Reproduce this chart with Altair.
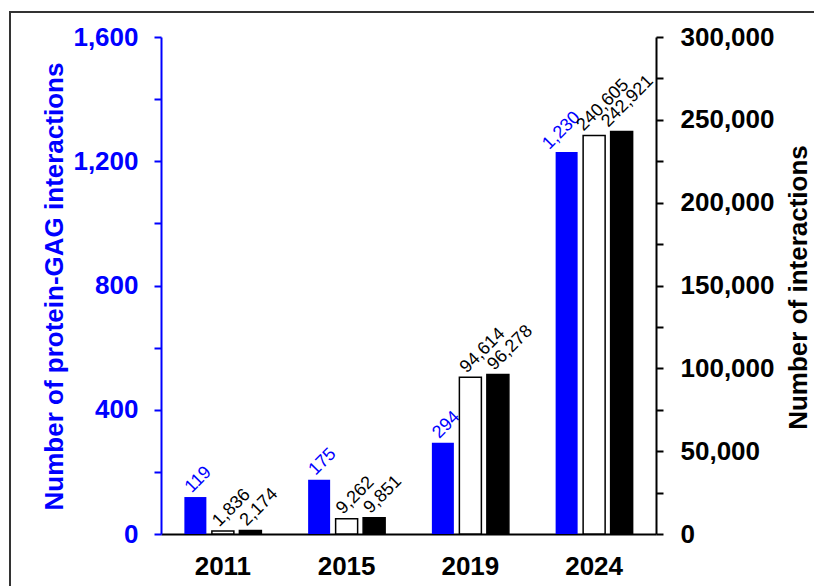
import altair as alt
import pandas as pd

# ---- data -------------------------------------------------------------
years = ["2011", "2015", "2019", "2024"]
protein_gag = [119, 175, 294, 1230]            # left axis (blue)
interactions_open = [1836, 9262, 94614, 240605]    # right axis (white bars)
interactions_filled = [2174, 9851, 96278, 242921]  # right axis (black bars)

series_order = ["protein-GAG", "open", "filled"]
series_fill = ["#0000ff", "#ffffff", "#000000"]

left_ticks = [0, 200, 400, 600, 800, 1000, 1200, 1400, 1600]
right_ticks = [0, 25000, 50000, 75000, 100000, 125000, 150000, 175000,
               200000, 225000, 250000, 275000, 300000]

rows = []
for i, yr in enumerate(years):
    rows.append({"year": yr, "series": "protein-GAG", "value": protein_gag[i]})
    rows.append({"year": yr, "series": "open", "value": interactions_open[i]})
    rows.append({"year": yr, "series": "filled", "value": interactions_filled[i]})
df = pd.DataFrame(rows)

FONT = "Liberation Sans"
BLUE = "#0000ff"

x_enc = alt.X(
    "year:N", sort=years,
    scale=alt.Scale(paddingInner=0, paddingOuter=0),
    axis=alt.Axis(title=None, labelAngle=0, ticks=False, tickSize=0,
                  domainColor="black", domainWidth=2, grid=False,
                  labelFont=FONT, labelFontSize=26, labelFontWeight="bold",
                  labelColor="black", labelPadding=19),
)
xo_enc = alt.XOffset("series:N",
                     scale=alt.Scale(domain=series_order, paddingInner=0.2, paddingOuter=0.85))
color_enc = alt.Color("series:N", scale=alt.Scale(domain=series_order, range=series_fill),
                      legend=None)

y_left = alt.Y(
    "value:Q",
    scale=alt.Scale(domain=[0, 1600], nice=False),
    axis=alt.Axis(
        title="Number of protein-GAG interactions", orient="left",
        values=left_ticks,
        labelExpr="datum.value % 400 == 0 ? format(datum.value, ',') : ''",
        labelOverlap=False, grid=False,
        domainColor=BLUE, domainWidth=2, tickColor=BLUE, tickWidth=2, tickSize=7,
        labelColor=BLUE, labelFont=FONT, labelFontSize=26, labelFontWeight="bold",
        labelPadding=16,
        titleColor=BLUE, titleFont=FONT, titleFontSize=26, titleFontWeight="bold",
        titleX=-99, titleY=249, titleAngle=-90, titleAlign="center",
        titleBaseline="alphabetic",
    ),
)
y_right = alt.Y(
    "value:Q",
    scale=alt.Scale(domain=[0, 300000], nice=False),
    axis=alt.Axis(
        title="Number of interactions", orient="right",
        values=right_ticks,
        labelExpr="datum.value % 50000 == 0 ? format(datum.value, ',') : ''",
        labelOverlap=False, grid=False,
        domainColor="black", domainWidth=2, tickColor="black", tickWidth=2, tickSize=7,
        labelColor="black", labelFont=FONT, labelFontSize=26, labelFontWeight="bold",
        labelPadding=17,
        titleColor="black", titleFont=FONT, titleFontSize=26, titleFontWeight="bold",
        titleX=150, titleY=250, titleAngle=-90, titleAlign="center",
        titleBaseline="alphabetic",
    ),
)

text_base = dict(align="left", baseline="alphabetic", angle=315, font=FONT, fontSize=18)

base = alt.Chart(df)
label_text = alt.Text("value:Q", format=",")


def labels(series, y_enc, color, dx, dy, last_dx, last_dy):
    sel = base.transform_filter(alt.datum.series == series)
    early = sel.transform_filter(alt.datum.year != "2024").mark_text(
        color=color, dx=dx, dy=dy, **text_base).encode(
        x=x_enc, xOffset=xo_enc, y=y_enc, text=label_text)
    last = sel.transform_filter(alt.datum.year == "2024").mark_text(
        color=color, dx=last_dx, dy=last_dy, **text_base).encode(
        x=x_enc, xOffset=xo_enc, y=y_enc, text=label_text)
    return [early, last]


blue_bars = base.transform_filter(alt.datum.series == "protein-GAG").mark_bar().encode(
    x=x_enc, xOffset=xo_enc, y=y_left, color=color_enc)

frame = alt.Chart(pd.DataFrame({"k": [0]})).mark_rect(
    fillOpacity=0, stroke="#333333", strokeWidth=2).encode(
    x=alt.value(-151), x2=alt.value(720), y=alt.value(-25), y2=alt.value(620))

other_bars = base.transform_filter(alt.datum.series != "protein-GAG").mark_bar(
    stroke="black", strokeWidth=1.5).encode(
    x=x_enc, xOffset=xo_enc, y=y_right, color=color_enc)

left_layer = alt.layer(
    blue_bars,
    *labels("protein-GAG", y_left, BLUE, 0, -5, -11, -13.5),
    frame,
)
right_layer = alt.layer(
    other_bars,
    *labels("open", y_right, "black", 0, -5, -5, -10),
    *labels("filled", y_right, "black", 0, -5, -7, -12),
)

chart = alt.layer(left_layer, right_layer).resolve_scale(y="independent").properties(
    width=495, height=497,
    padding={"left": 153, "top": 29, "right": 158, "bottom": 52},
    autosize=alt.AutoSizeParams(type="none"),
    background="white",
).configure_view(stroke=None)

chart.save("out.html", embed_options={"renderer": "svg", "actions": False})
